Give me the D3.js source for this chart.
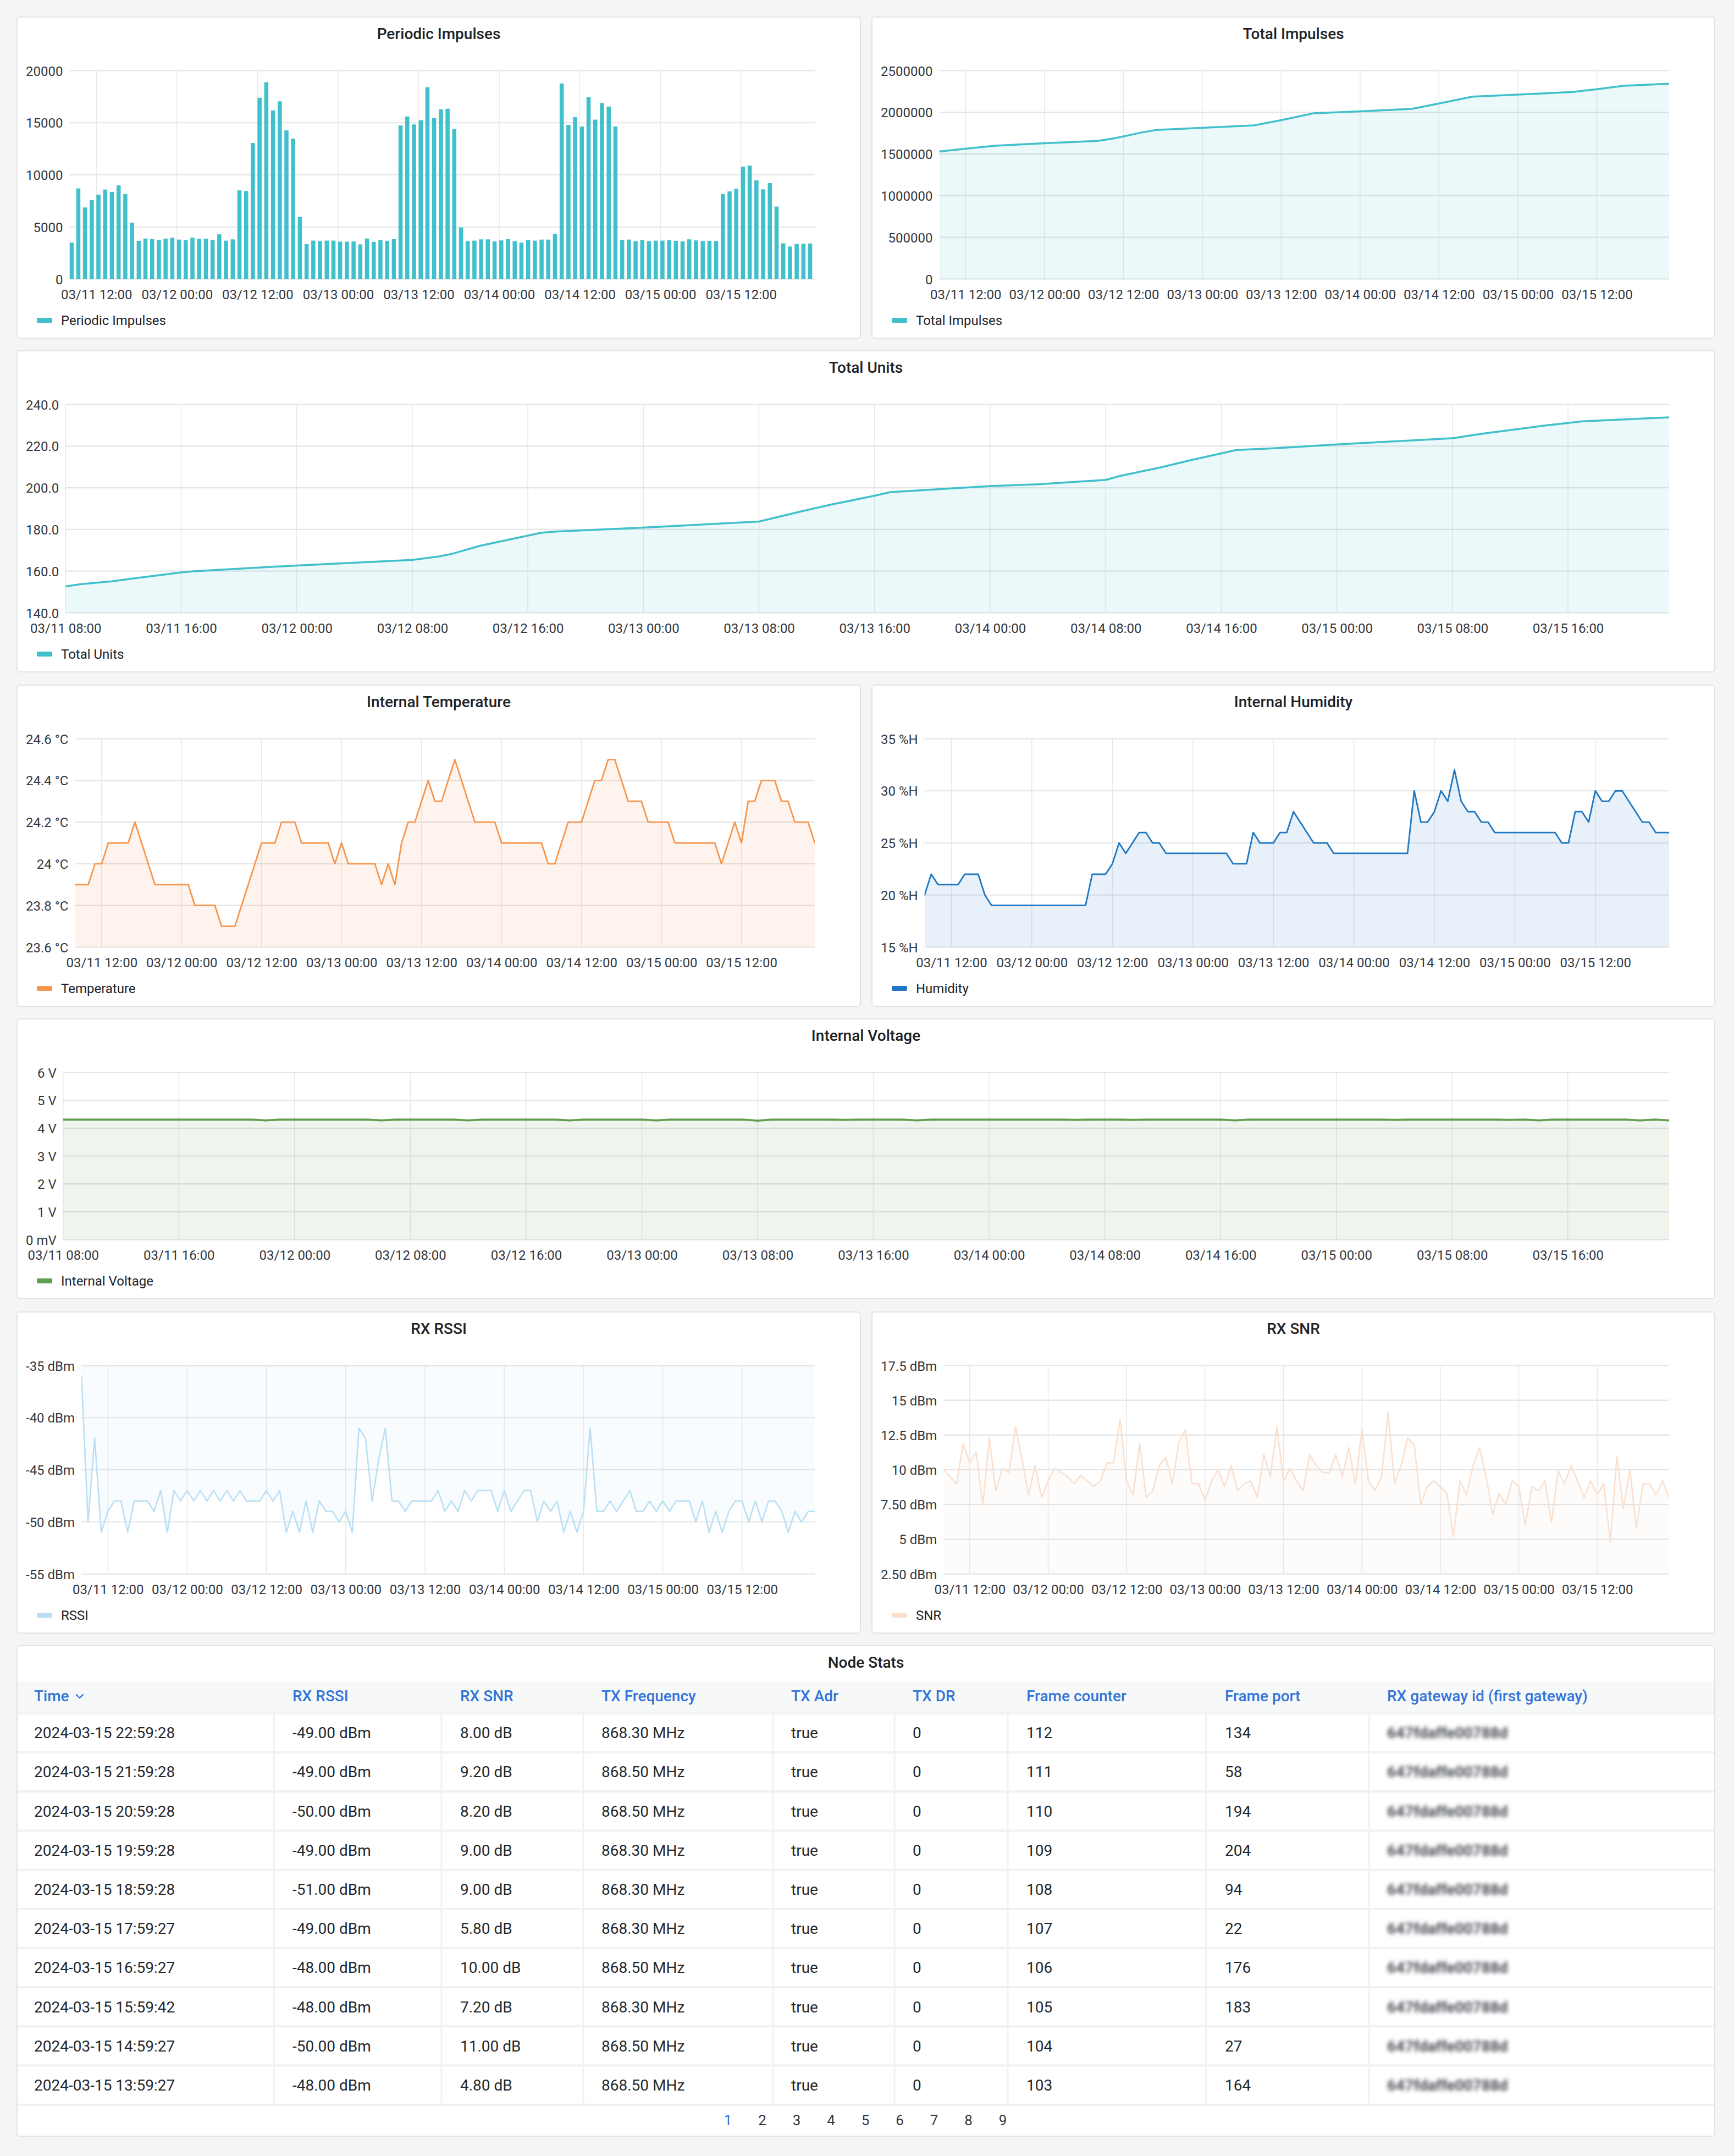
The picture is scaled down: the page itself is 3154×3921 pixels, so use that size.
<!DOCTYPE html>
<html>
<head>
<meta charset="utf-8">
<script src="https://cdn.jsdelivr.net/npm/d3@7/dist/d3.min.js"></script>
<style>
html,body{margin:0;padding:0;background:#f4f5f5;}
svg{display:block;font-family:Roboto,"Noto Sans",sans-serif;}
</style>
</head>
<body>
<svg id="dash" width="3154" height="3921"></svg>
<script>
// ================= DATA =================
const seriesStart = "2024-03-11T08:00:00";
const seriesEnd   = "2024-03-15T23:00:00";

// hourly periodic impulses (112 readings)
const periodicImpulses = [
 3500,8700,6870,7580,8100,8590,8370,8990,8160,5420,
 3670,3890,3830,3730,3890,3970,3790,3730,3970,3870,
 3870,3750,4290,3690,3810,8510,8450,13060,17400,18890,
 16190,17060,14270,13470,5950,3350,3690,3650,3690,3690,
 3590,3590,3610,3330,3890,3570,3730,3670,3830,14740,
 15600,14840,15240,18410,15440,16290,16350,14400,4960,3650,
 3690,3810,3810,3610,3710,3830,3630,3490,3750,3690,
 3790,3790,4350,18770,14800,15540,14640,17480,15300,16890,
 16550,14640,3750,3790,3630,3770,3650,3690,3690,3750,
 3670,3610,3810,3710,3650,3670,3650,8160,8410,8670,
 10790,10890,9480,8610,9210,6960,3430,3120,3370,3390,
 3410,3290
];

// total impulses, read at the visible breakpoints (hours after series start)
const totalImpulsesHours  = [0,4,8.5,16,24.1,26.6,30.7,33.1,39.9,47.9,52,56.9,64,71.9,76.6,81.1,88.1,96.3,100,104.1,111];
const totalImpulsesValues = [1530000,1564000,1599000,1629000,1658000,1688000,1757000,1790000,1814000,1844000,1906000,1988000,2012000,2042000,2116000,2188000,2213000,2245000,2277000,2319000,2344000];

// total units, read at the visible breakpoints (hours after series start)
const totalUnitsHours  = [0,1.1,3.2,5.6,8,9,16,24,25.9,26.8,28.7,32.9,33.9,40,48,51,53.1,56,57.1,64,67.3,72,73,75.8,77.9,80,81,84,88,96,98,102.2,105,111];
const totalUnitsValues = [152.7,153.8,155.1,157.3,159.4,160.0,162.7,165.4,167.1,168.4,172.2,178.4,179.0,180.9,183.8,188.8,192.1,196.2,197.9,200.8,201.7,203.8,205.7,209.8,213.3,216.5,218.1,219.1,220.8,223.8,225.9,229.7,231.9,233.8];

const temperature = [
 23.9,23.9,23.9,24.0,24.0,24.1,24.1,24.1,24.1,24.2,
 24.1,24.0,23.9,23.9,23.9,23.9,23.9,23.9,23.8,23.8,
 23.8,23.8,23.7,23.7,23.7,23.8,23.9,24.0,24.1,24.1,
 24.1,24.2,24.2,24.2,24.1,24.1,24.1,24.1,24.1,24.0,
 24.1,24.0,24.0,24.0,24.0,24.0,23.9,24.0,23.9,24.1,
 24.2,24.2,24.3,24.4,24.3,24.3,24.4,24.5,24.4,24.3,
 24.2,24.2,24.2,24.2,24.1,24.1,24.1,24.1,24.1,24.1,
 24.1,24.0,24.0,24.1,24.2,24.2,24.2,24.3,24.4,24.4,
 24.5,24.5,24.4,24.3,24.3,24.3,24.2,24.2,24.2,24.2,
 24.1,24.1,24.1,24.1,24.1,24.1,24.1,24.0,24.1,24.2,
 24.1,24.3,24.3,24.4,24.4,24.4,24.3,24.3,24.2,24.2,
 24.2,24.1
];

const humidity = [
 20,22,21,21,21,21,22,22,22,20,
 19,19,19,19,19,19,19,19,19,19,
 19,19,19,19,19,22,22,22,23,25,
 24,25,26,26,25,25,24,24,24,24,
 24,24,24,24,24,24,23,23,23,26,
 25,25,25,26,26,28,27,26,25,25,
 25,24,24,24,24,24,24,24,24,24,
 24,24,24,30,27,27,28,30,29,32,
 29,28,28,27,27,26,26,26,26,26,
 26,26,26,26,26,25,25,28,28,27,
 30,29,29,30,30,29,28,27,27,26,
 26,26
];

const voltage = [
 4.31,4.31,4.31,4.31,4.31,4.31,4.31,4.31,4.31,4.31,
 4.31,4.31,4.31,4.31,4.28,4.31,4.31,4.31,4.31,4.31,
 4.31,4.31,4.28,4.31,4.31,4.31,4.31,4.31,4.28,4.31,
 4.31,4.31,4.31,4.31,4.31,4.28,4.31,4.31,4.31,4.31,
 4.31,4.28,4.31,4.31,4.31,4.31,4.31,4.31,4.27,4.31,
 4.31,4.31,4.31,4.31,4.30,4.31,4.31,4.31,4.31,4.28,
 4.31,4.31,4.31,4.31,4.31,4.31,4.31,4.31,4.31,4.31,
 4.30,4.31,4.31,4.31,4.30,4.31,4.31,4.31,4.31,4.31,
 4.31,4.28,4.31,4.31,4.31,4.31,4.31,4.31,4.31,4.31,
 4.31,4.31,4.30,4.31,4.31,4.31,4.31,4.31,4.31,4.31,
 4.30,4.31,4.28,4.31,4.31,4.31,4.31,4.31,4.31,4.28,
 4.31,4.28
];

const rssi = [
 -36,-50,-42,-51,-49,-48,-48,-51,-48,-48,
 -48,-49,-47,-51,-47,-48,-47,-48,-47,-48,
 -47,-48,-47,-48,-47,-48,-48,-48,-47,-48,
 -47,-51,-49,-51,-48,-51,-48,-49,-49,-50,
 -49,-51,-41,-42,-48,-44,-41,-48,-48,-49,
 -48,-48,-48,-48,-47,-49,-48,-49,-47,-48,
 -47,-47,-47,-49,-47,-49,-48,-47,-47,-50,
 -48,-49,-48,-51,-49,-51,-49,-41,-49,-49,
 -48,-49,-48,-47,-49,-49,-48,-49,-48,-49,
 -48,-48,-48,-50,-48,-51,-49,-51,-49,-48,
 -48,-50,-48,-50,-48,-48,-49,-51,-49,-50,
 -49,-49
];

const snr = [
 10.0,9.5,9.0,11.9,10.5,11.3,7.5,12.3,8.5,10.1,
 9.8,13.1,10.8,8.2,10.3,8.0,9.2,10.1,9.8,9.5,
 9.0,9.6,9.2,8.8,9.2,10.5,10.5,13.6,9.2,8.2,
 11.9,8.0,8.5,10.3,10.9,9.0,12.0,12.9,9.0,9.0,
 7.8,9.2,10.0,8.8,10.3,8.5,9.0,9.2,8.0,11.1,
 9.5,13.1,9.2,10.1,9.2,8.5,11.1,10.3,9.8,9.8,
 11.1,9.5,11.6,9.0,12.9,9.2,8.5,9.5,14.1,9.0,
 10.3,12.3,11.8,7.5,8.8,9.2,8.8,8.3,5.2,9.2,
 8.2,10.3,11.6,9.5,6.8,8.3,7.5,9.2,8.8,6.0,
 8.8,8.5,9.2,6.2,9.9,9.0,10.3,9.2,8.0,9.2,
 8.2,9.0,4.8,11.0,7.2,10.0,5.8,9.0,9.0,8.2,
 9.2,8.0
];

// axis ticks
const impulsesTicks = [0,5000,10000,15000,20000];
const impulsesTickLabels = ["0","5000","10000","15000","20000"];
const totalImpulsesTicks = [0,500000,1000000,1500000,2000000,2500000];
const totalImpulsesTickLabels = ["0","500000","1000000","1500000","2000000","2500000"];
const unitsTicks = [140,160,180,200,220,240];
const unitsTickLabels = ["140.0","160.0","180.0","200.0","220.0","240.0"];
const tempTicks = [23.6,23.8,24.0,24.2,24.4,24.6];
const tempTickLabels = ["23.6 °C","23.8 °C","24 °C","24.2 °C","24.4 °C","24.6 °C"];
const humTicks = [15,20,25,30,35];
const humTickLabels = ["15 %H","20 %H","25 %H","30 %H","35 %H"];
const voltTicks = [0,1,2,3,4,5,6];
const voltTickLabels = ["0 mV","1 V","2 V","3 V","4 V","5 V","6 V"];
const rssiTicks = [-55,-50,-45,-40,-35];
const rssiTickLabels = ["-55 dBm","-50 dBm","-45 dBm","-40 dBm","-35 dBm"];
const snrTicks = [2.5,5,7.5,10,12.5,15,17.5];
const snrTickLabels = ["2.50 dBm","5 dBm","7.50 dBm","10 dBm","12.5 dBm","15 dBm","17.5 dBm"];

// table
const tableHeaders = ["Time","RX RSSI","RX SNR","TX Frequency","TX Adr","TX DR","Frame counter","Frame port","RX gateway id (first gateway)"];
const tableTimes = ["2024-03-15 22:59:28","2024-03-15 21:59:28","2024-03-15 20:59:28","2024-03-15 19:59:28","2024-03-15 18:59:28","2024-03-15 17:59:27","2024-03-15 16:59:27","2024-03-15 15:59:42","2024-03-15 14:59:27","2024-03-15 13:59:27"];
const tableRssi = [-49,-49,-50,-49,-51,-49,-48,-48,-50,-48];
const tableSnr = [8.0,9.2,8.2,9.0,9.0,5.8,10.0,7.2,11.0,4.8];
const tableFreq = [868.3,868.5,868.5,868.3,868.3,868.3,868.5,868.3,868.5,868.5];
const tableAdr = [true,true,true,true,true,true,true,true,true,true];
const tableDr = [0,0,0,0,0,0,0,0,0,0];
const tableFrameCounter = [112,111,110,109,108,107,106,105,104,103];
const tableFramePort = [134,58,194,204,94,22,176,183,27,164];
const tableGateway = "647fdaffe00788d";
const pages = ["1","2","3","4","5","6","7","8","9"];

// ================= RENDER =================
const FONT = "Roboto, 'Noto Sans', sans-serif";
const svg = d3.select("#dash");
const defs = svg.append("defs");
let clipN = 0;
const t0 = new Date(seriesStart), t1 = new Date(seriesEnd);
const hourly = arr => arr.map((v, i) => ({t: d3.timeHour.offset(t0, i), v}));
const byHours = (hrs, vals) => hrs.map((h, i) => ({t: new Date(t0.getTime() + h * 3600e3), v: vals[i]}));

function drawPanel(p, title) {
  svg.append("rect").attr("x", p.x + 1).attr("y", p.y + 1).attr("width", p.w - 2).attr("height", p.h - 2)
    .attr("rx", 5).attr("fill", "#fff").attr("stroke", "#e1e3e5").attr("stroke-width", 2);
  svg.append("text").attr("x", p.x + p.w / 2).attr("y", p.y + 31).attr("dy", "0.355em")
    .attr("text-anchor", "middle").attr("font-size", 28).attr("font-weight", 500)
    .attr("fill", "#202226").text(title);
}

function measure(texts, size) {
  const t = svg.append("text").attr("font-size", size);
  let m = 0;
  texts.forEach(s => { t.text(s); m = Math.max(m, t.node().getComputedTextLength()); });
  t.remove();
  return m;
}

function timeChart(c) {
  const p = c.panel;
  drawPanel(p, c.title);
  const maxW = measure(c.yLabels, 24);
  const left = p.x + 17 + maxW + 12;
  const right = p.x + p.w - 84;
  const top = p.y + 98.5;
  const bottom = p.y + p.h - 108.5;
  const x = d3.scaleTime().domain([t0, t1]).range([left, right]);
  const y = d3.scaleLinear().domain(c.yDomain).range([bottom, top]);
  const g = svg.append("g");
  const xt = x.ticks(d3.timeHour.every(c.tickEvery));
  g.append("g").selectAll("line").data(xt).join("line")
    .attr("x1", d => x(d)).attr("x2", d => x(d)).attr("y1", top).attr("y2", bottom)
    .attr("stroke", "#e7e8e9").attr("stroke-width", 1.5);
  g.append("g").selectAll("line").data(c.yTicks).join("line")
    .attr("x1", left).attr("x2", right).attr("y1", d => y(d)).attr("y2", d => y(d))
    .attr("stroke", "#e3e4e5").attr("stroke-width", 2.2);
  const id = "clip" + (clipN++);
  defs.append("clipPath").attr("id", id).append("rect")
    .attr("x", left).attr("y", top - 1).attr("width", right - left).attr("height", bottom - top + 1);
  const plot = g.append("g").attr("clip-path", `url(#${id})`);
  if (c.type === "bar") {
    plot.selectAll("rect").data(c.data).join("rect")
      .attr("x", d => x(d.t))
      .attr("width", d => x(d3.timeMinute.offset(d.t, 37)) - x(d.t))
      .attr("y", d => y(d.v)).attr("height", d => y(0) - y(d.v))
      .attr("fill", c.color);
  } else {
    const area = d3.area().x(d => x(d.t)).y0(y(0)).y1(d => y(d.v));
    plot.append("path").datum(c.data).attr("d", area)
      .attr("fill", c.color).attr("fill-opacity", c.fillOpacity || 0.1);
    const line = d3.line().x(d => x(d.t)).y(d => y(d.v));
    plot.append("path").datum(c.data).attr("d", line).attr("fill", "none")
      .attr("stroke", c.color).attr("stroke-width", c.lineWidth)
      .attr("stroke-linejoin", "round").attr("stroke-linecap", "round");
  }
  // y axis
  const ya = svg.append("g").attr("transform", `translate(${left},0)`)
    .call(d3.axisLeft(y).tickValues(c.yTicks).tickFormat((d, i) => c.yLabels[i]).tickSize(0).tickPadding(12));
  ya.attr("font-family", FONT);
  ya.select(".domain").remove();
  ya.selectAll("text").attr("font-size", 24).attr("fill", "#34383e").attr("dy", "0.355em");
  // x axis
  const xa = svg.append("g").attr("transform", `translate(0,${bottom})`)
    .call(d3.axisBottom(x).ticks(d3.timeHour.every(c.tickEvery)).tickFormat(d3.timeFormat("%m/%d %H:%M")).tickSize(0));
  xa.attr("font-family", FONT);
  xa.select(".domain").remove();
  xa.selectAll("text").attr("font-size", 24).attr("fill", "#34383e").attr("y", 28).attr("dy", "0.355em");
  // legend
  svg.append("rect").attr("x", p.x + 37).attr("y", bottom + 75 - 4.5).attr("width", 28).attr("height", 9)
    .attr("rx", 2).attr("fill", c.color);
  svg.append("text").attr("x", p.x + 81).attr("y", bottom + 75).attr("dy", "0.355em")
    .attr("font-size", 24).attr("fill", "#202226").text(c.legend);
}

const TEAL = "#40c0cb";

timeChart({panel: {x: 30, y: 30, w: 1536, h: 586}, title: "Periodic Impulses", type: "bar",
  data: hourly(periodicImpulses), yDomain: [0, 20000], yTicks: impulsesTicks, yLabels: impulsesTickLabels,
  tickEvery: 12, color: TEAL, legend: "Periodic Impulses"});

timeChart({panel: {x: 1585, y: 30, w: 1535, h: 586}, title: "Total Impulses", type: "line",
  data: byHours(totalImpulsesHours, totalImpulsesValues), yDomain: [0, 2500000],
  yTicks: totalImpulsesTicks, yLabels: totalImpulsesTickLabels,
  tickEvery: 12, color: TEAL, lineWidth: 3.5, legend: "Total Impulses"});

timeChart({panel: {x: 30, y: 637, w: 3090, h: 586}, title: "Total Units", type: "line",
  data: byHours(totalUnitsHours, totalUnitsValues), yDomain: [140, 240],
  yTicks: unitsTicks, yLabels: unitsTickLabels,
  tickEvery: 8, color: TEAL, lineWidth: 3.5, legend: "Total Units"});

timeChart({panel: {x: 30, y: 1245, w: 1536, h: 586}, title: "Internal Temperature", type: "line",
  data: hourly(temperature), yDomain: [23.6, 24.6], yTicks: tempTicks, yLabels: tempTickLabels,
  tickEvery: 12, color: "#f7964f", lineWidth: 2.8, legend: "Temperature"});

timeChart({panel: {x: 1585, y: 1245, w: 1535, h: 586}, title: "Internal Humidity", type: "line",
  data: hourly(humidity), yDomain: [15, 35], yTicks: humTicks, yLabels: humTickLabels,
  tickEvery: 12, color: "#1f78c1", lineWidth: 2.8, legend: "Humidity"});

timeChart({panel: {x: 30, y: 1852, w: 3090, h: 511}, title: "Internal Voltage", type: "line",
  data: hourly(voltage), yDomain: [0, 6], yTicks: voltTicks, yLabels: voltTickLabels,
  tickEvery: 8, color: "#629e51", lineWidth: 3.8, legend: "Internal Voltage"});

timeChart({panel: {x: 30, y: 2385, w: 1536, h: 586}, title: "RX RSSI", type: "line",
  data: hourly(rssi), yDomain: [-55, -35], yTicks: rssiTicks, yLabels: rssiTickLabels,
  tickEvery: 12, color: "#badff4", lineWidth: 2.6, legend: "RSSI"});

timeChart({panel: {x: 1585, y: 2385, w: 1535, h: 586}, title: "RX SNR", type: "line",
  data: hourly(snr), yDomain: [2.5, 17.5], yTicks: snrTicks, yLabels: snrTickLabels,
  tickEvery: 12, color: "#f9e0cf", lineWidth: 2.6, legend: "SNR"});

// ---------- table ----------
(function table() {
  const p = {x: 30, y: 2992, w: 3090, h: 894};
  drawPanel(p, "Node Stats");
  const colText = [62, 532, 837, 1094, 1439, 1660, 1867, 2228, 2523];
  const colSep = [498, 803, 1061, 1406, 1627, 1833, 2194, 2490];
  const headTop = 3058, headBottom = 3113;
  svg.append("rect").attr("x", p.x + 2).attr("y", headTop).attr("width", p.w - 4).attr("height", headBottom - headTop)
    .attr("fill", "#f7f8f8");
  const hg = svg.append("g").attr("font-size", 28).attr("font-weight", 500).attr("fill", "#3274d9");
  hg.selectAll("text").data(tableHeaders).join("text")
    .attr("x", (d, i) => colText[i]).attr("y", (headTop + headBottom) / 2 - 1).attr("dy", "0.355em").text(d => d);
  const timeW = measure(["Time"], 28);
  svg.append("path")
    .attr("d", `M${colText[0] + timeW + 14},${3082} l6,6 l6,-6`)
    .attr("fill", "none").attr("stroke", "#3274d9").attr("stroke-width", 2.4).attr("stroke-linecap", "round").attr("stroke-linejoin", "round");

  const nRows = tableTimes.length;
  const sepY = d3.scaleLinear().domain([0, nRows]).range([3115.7, 3827.7]);
  // horizontal separators
  svg.append("g").selectAll("rect").data(d3.range(nRows + 1)).join("rect")
    .attr("x", p.x + 2).attr("width", p.w - 4).attr("y", d => sepY(d) - 2).attr("height", 4).attr("fill", "#f0f1f2");
  // vertical separators
  const vs = svg.append("g");
  d3.range(nRows).forEach(r => {
    vs.selectAll(null).data(colSep).join("rect")
      .attr("x", d => d - 1.5).attr("width", 3).attr("y", sepY(r) + 2).attr("height", sepY(r + 1) - sepY(r) - 4)
      .attr("fill", "#f0f1f2");
  });
  defs.append("filter").attr("id", "blur").attr("x", "-10%").attr("y", "-50%").attr("width", "120%").attr("height", "200%")
    .append("feGaussianBlur").attr("stdDeviation", 3.6);
  const rows = d3.range(nRows).map(i => [
    tableTimes[i], tableRssi[i].toFixed(2) + " dBm", tableSnr[i].toFixed(2) + " dB",
    tableFreq[i].toFixed(2) + " MHz", String(tableAdr[i]), String(tableDr[i]),
    String(tableFrameCounter[i]), String(tableFramePort[i]), tableGateway]);
  const rg = svg.append("g").attr("font-size", 28).attr("fill", "#24282d");
  rows.forEach((row, r) => {
    const cy = (sepY(r) + sepY(r + 1)) / 2;
    rg.selectAll(null).data(row).join("text")
      .attr("x", (d, i) => colText[i]).attr("y", cy).attr("dy", "0.355em")
      .attr("fill", (d, i) => i === 8 ? "#4a4e54" : null)
      .attr("font-weight", (d, i) => i === 8 ? 700 : null)
      .attr("filter", (d, i) => i === 8 ? "url(#blur)" : null)
      .text(d => d);
  });
  // pagination
  const px = d3.scalePoint().domain(pages).range([1324, 1824]);
  svg.append("g").attr("font-size", 26).selectAll("text").data(pages).join("text")
    .attr("x", d => px(d)).attr("y", 3856).attr("dy", "0.355em").attr("text-anchor", "middle")
    .attr("fill", (d, i) => i === 0 ? "#3274d9" : "#34383e").text(d => d);
})();
</script>
</body>
</html>
